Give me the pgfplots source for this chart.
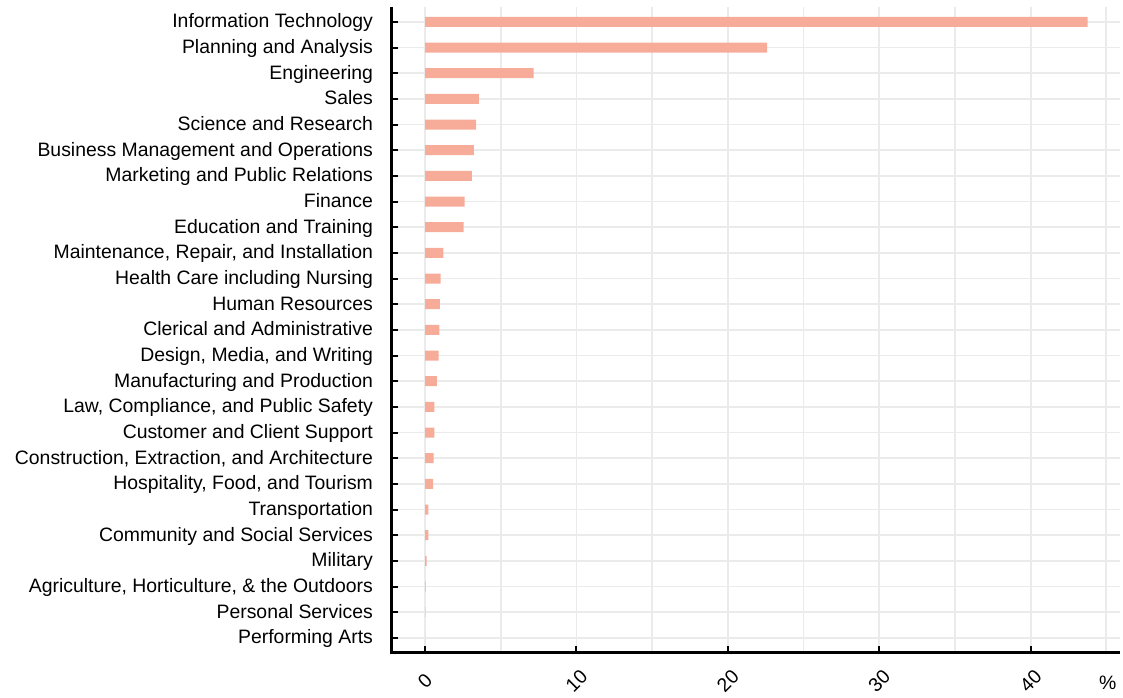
\documentclass[border=0pt]{standalone}
\usepackage{fontspec}
\setmainfont{Liberation Sans}
\usepackage{pgfplots}
\pgfplotsset{compat=1.18}
\definecolor{barfill}{RGB}{247,172,154}
\definecolor{gridgray}{RGB}{235,235,235}
\begin{document}
\begin{tikzpicture}[font=\fontsize{9.7}{11}\selectfont]
\useasboundingbox (-196pt,-22.5pt) rectangle (365.5pt,326pt);
\begin{axis}[
    scale only axis,
    width=364pt, height=322.5pt,
    xmin=-2.18, xmax=45.9, ymin=-0.55, ymax=24.58,
    axis x line*=bottom, axis y line*=left,
    clip=false,
    xtick={0,10,20,30,40}, minor xtick={5,15,25,35,45},
    ytick={0,...,24},
    yticklabels={{Performing Arts},{Personal Services},{Agriculture, Horticulture, \& the Outdoors},{Military},{Community and Social Services},{Transportation},{Hospitality, Food, and Tourism},{Construction, Extraction, and Architecture},{Customer and Client Support},{Law, Compliance, and Public Safety},{Manufacturing and Production},{Design, Media, and Writing},{Clerical and Administrative},{Human Resources},{Health Care including Nursing},{Maintenance, Repair, and Installation},{Education and Training},{Finance},{Marketing and Public Relations},{Business Management and Operations},{Science and Research},{Sales},{Engineering},{Planning and Analysis},{Information Technology}},
    tick align=inside,
    major tick length=3pt, minor tick length=0pt,
    tick style={line width=1pt, black},
    xmajorgrids, xminorgrids, ymajorgrids,
    grid style={gridgray, line width=0.9pt},
    minor grid style={gridgray, line width=0.9pt},
    /pgf/number format/assume math mode=true,
    xticklabel style={yshift=-14.5pt, rotate=45, anchor=center},
    yticklabel style={xshift=-6pt, text height=1.6ex, text depth=0.45ex},
    xlabel={\%},
    xlabel style={at={(rel axis cs:0.983,0)}, anchor=center, yshift=-15.5pt},
]
\addplot[xbar, bar width=0.39, fill=barfill, draw=none] coordinates {
    (0.01,0) (0.02,1) (0.04,2) (0.11,3) (0.22,4) (0.22,5)
    (0.53,6) (0.57,7) (0.62,8) (0.62,9) (0.79,10) (0.90,11)
    (0.95,12) (0.99,13) (1.03,14) (1.21,15) (2.55,16) (2.62,17)
    (3.10,18) (3.23,19) (3.37,20) (3.56,21) (7.18,22) (22.59,23) (43.76,24)
};
\draw[line width=1.5pt] (rel axis cs:0,1) -- (rel axis cs:0,0);
\draw[line width=1.5pt] ([xshift=-0.75pt]rel axis cs:0,0) -- (rel axis cs:1,0);
\end{axis}
\end{tikzpicture}
\end{document}
